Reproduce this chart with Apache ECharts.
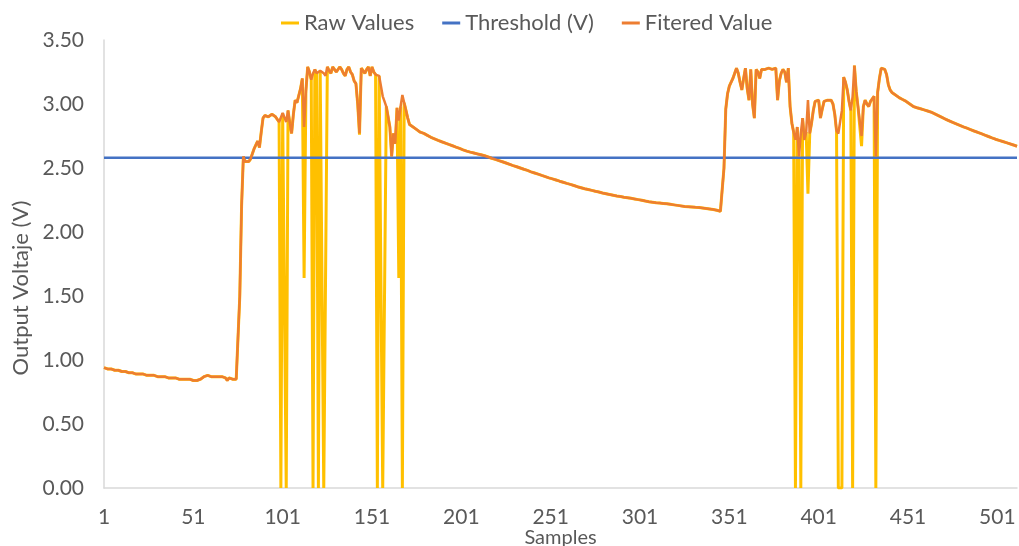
<!DOCTYPE html>
<html>
<head>
<meta charset="utf-8">
<script src="https://cdn.jsdelivr.net/npm/echarts@6/dist/echarts.min.js"></script>
<style>
  html, body { margin: 0; padding: 0; background: #fff; }
  #chart_box { width: 1019px; height: 546px; }
</style>
</head>
<body>
<div id="chart_box"></div>
<script>
// values, one per sample
var filteredValues = [
  0.94,0.94,0.93,0.93,0.93,0.92,0.92,0.92,0.92,0.91,
  0.91,0.91,0.91,0.90,0.90,0.90,0.90,0.90,0.89,0.89,
  0.89,0.89,0.89,0.88,0.88,0.88,0.88,0.88,0.88,0.87,
  0.87,0.87,0.87,0.87,0.87,0.86,0.86,0.86,0.86,0.86,
  0.86,0.85,0.85,0.85,0.85,0.85,0.85,0.85,0.85,0.85,
  0.84,0.84,0.84,0.84,0.85,0.86,0.87,0.87,0.88,0.87,
  0.87,0.88,0.87,0.87,0.87,0.88,0.87,0.87,0.86,0.84,
  0.86,0.85,0.85,0.85,0.85,0.86,1.50,2.20,2.59,2.55,
  2.54,2.55,2.57,2.61,2.65,2.68,2.71,2.66,2.78,2.89,
  2.91,2.92,2.90,2.89,2.92,2.93,2.90,2.88,2.86,2.85,
  2.93,2.94,2.86,2.95,2.85,2.77,2.92,3.03,3.01,3.00,
  3.12,3.20,2.82,3.10,3.29,3.25,3.19,3.24,3.27,3.24,
  3.23,3.26,3.27,3.24,3.22,3.29,3.26,3.24,3.29,3.27,
  3.25,3.25,3.29,3.27,3.24,3.22,3.27,3.29,3.25,3.23,
  3.18,3.16,3.00,2.77,3.28,3.26,3.24,3.27,3.29,3.22,
  3.29,3.25,3.23,3.23,3.22,3.22,3.06,3.02,2.98,2.90,
  2.82,2.59,2.77,2.69,2.97,2.87,2.98,3.07,3.01,2.95,
  2.89,2.84,2.83,2.82,2.81,2.80,2.79,2.78,2.775,2.77,
  2.762,2.755,2.748,2.74,2.733,2.728,2.722,2.716,2.711,2.705,
  2.70,2.695,2.689,2.684,2.679,2.674,2.669,2.663,2.658,2.653,
  2.648,2.642,2.637,2.632,2.628,2.624,2.620,2.617,2.613,2.610,
  2.607,2.603,2.600,2.596,2.591,2.586,2.581,2.576,2.571,2.567,
  2.562,2.558,2.554,2.549,2.544,2.539,2.534,2.529,2.524,2.519,
  2.514,2.510,2.505,2.500,2.495,2.490,2.486,2.481,2.476,2.470,
  2.466,2.461,2.456,2.452,2.447,2.442,2.437,2.433,2.428,2.423,
  2.419,2.415,2.410,2.406,2.402,2.397,2.393,2.389,2.384,2.380,
  2.376,2.372,2.367,2.363,2.359,2.354,2.350,2.346,2.342,2.338,
  2.335,2.332,2.328,2.325,2.322,2.318,2.315,2.312,2.309,2.305,
  2.302,2.299,2.296,2.293,2.290,2.287,2.284,2.281,2.279,2.277,
  2.275,2.272,2.270,2.268,2.266,2.263,2.261,2.258,2.256,2.253,
  2.250,2.248,2.245,2.242,2.240,2.237,2.234,2.233,2.231,2.229,
  2.228,2.226,2.225,2.223,2.221,2.220,2.218,2.216,2.214,2.212,
  2.210,2.208,2.206,2.204,2.202,2.200,2.199,2.198,2.197,2.196,
  2.194,2.193,2.192,2.191,2.190,2.188,2.186,2.184,2.182,2.180,
  2.178,2.176,2.173,2.170,2.166,2.162,2.160,2.50,2.96,3.08,
  3.14,3.17,3.20,3.24,3.28,3.24,3.17,3.11,3.20,3.28,
  3.12,3.03,3.27,3.00,2.89,3.27,3.25,3.20,3.27,3.26,
  3.27,3.26,3.28,3.27,3.27,3.26,3.28,3.03,3.18,3.24,
  3.27,3.25,3.17,3.28,2.98,2.85,2.78,2.72,2.82,2.59,
  2.77,2.89,2.72,2.78,3.03,2.77,2.85,2.95,3.02,3.03,
  3.03,2.89,2.96,3.02,3.03,3.03,3.02,3.03,3.00,2.92,
  2.79,2.77,2.76,2.95,3.21,3.17,3.11,3.02,2.95,3.06,
  3.30,3.10,2.98,2.98,2.75,2.98,3.03,3.00,2.98,3.02,
  3.03,3.06,2.59,3.09,3.20,3.28,3.29,3.27,3.23,3.15,
  3.11,3.09,3.08,3.07,3.06,3.05,3.04,3.035,3.03,3.02,
  3.01,3.00,2.99,2.98,2.976,2.971,2.967,2.963,2.958,2.954,
  2.950,2.945,2.941,2.936,2.930,2.923,2.916,2.909,2.902,2.895,
  2.888,2.881,2.875,2.869,2.863,2.857,2.851,2.845,2.839,2.833,
  2.827,2.821,2.816,2.811,2.805,2.800,2.795,2.789,2.784,2.779,
  2.774,2.768,2.763,2.757,2.752,2.746,2.741,2.735,2.730,2.725,
  2.720,2.716,2.711,2.707,2.702,2.698,2.693,2.689,2.684,2.680,
  2.675,2.670
];

var rawValues = [
  0.94,0.94,0.93,0.93,0.93,0.92,0.92,0.92,0.92,0.91,
  0.91,0.91,0.91,0.90,0.90,0.90,0.90,0.90,0.89,0.89,
  0.89,0.89,0.89,0.88,0.88,0.88,0.88,0.88,0.88,0.87,
  0.87,0.87,0.87,0.87,0.87,0.86,0.86,0.86,0.86,0.86,
  0.86,0.85,0.85,0.85,0.85,0.85,0.85,0.85,0.85,0.85,
  0.84,0.84,0.84,0.84,0.85,0.86,0.87,0.87,0.88,0.87,
  0.87,0.88,0.87,0.87,0.87,0.88,0.87,0.87,0.86,0.84,
  0.86,0.85,0.85,0.85,0.85,0.86,1.50,2.20,2.59,2.55,
  2.54,2.55,2.57,2.61,2.65,2.68,2.71,2.66,2.78,2.89,
  2.91,2.92,2.90,2.89,2.92,2.93,2.90,2.88,2.86,0,
  2.93,2.94,0,2.95,2.85,2.77,2.92,3.03,3.01,3.00,
  3.12,3.20,1.64,3.10,3.29,3.25,3.19,0,3.27,3.24,
  0,3.26,3.27,0,0,3.29,3.26,3.24,3.29,3.27,
  3.25,3.25,3.29,3.27,3.24,3.22,3.27,3.29,3.25,3.23,
  3.18,3.16,3.00,2.76,3.28,3.26,3.24,3.27,3.29,3.22,
  3.29,3.25,3.23,0,3.22,3.22,0,0,2.98,2.90,
  2.82,2.59,2.77,2.69,2.97,1.64,2.98,0,3.01,2.95,
  2.89,2.84,2.83,2.82,2.81,2.80,2.79,2.78,2.775,2.77,
  2.762,2.755,2.748,2.74,2.733,2.728,2.722,2.716,2.711,2.705,
  2.70,2.695,2.689,2.684,2.679,2.674,2.669,2.663,2.658,2.653,
  2.648,2.642,2.637,2.632,2.628,2.624,2.620,2.617,2.613,2.610,
  2.607,2.603,2.600,2.596,2.591,2.586,2.581,2.576,2.571,2.567,
  2.562,2.558,2.554,2.549,2.544,2.539,2.534,2.529,2.524,2.519,
  2.514,2.510,2.505,2.500,2.495,2.490,2.486,2.481,2.476,2.470,
  2.466,2.461,2.456,2.452,2.447,2.442,2.437,2.433,2.428,2.423,
  2.419,2.415,2.410,2.406,2.402,2.397,2.393,2.389,2.384,2.380,
  2.376,2.372,2.367,2.363,2.359,2.354,2.350,2.346,2.342,2.338,
  2.335,2.332,2.328,2.325,2.322,2.318,2.315,2.312,2.309,2.305,
  2.302,2.299,2.296,2.293,2.290,2.287,2.284,2.281,2.279,2.277,
  2.275,2.272,2.270,2.268,2.266,2.263,2.261,2.258,2.256,2.253,
  2.250,2.248,2.245,2.242,2.240,2.237,2.234,2.233,2.231,2.229,
  2.228,2.226,2.225,2.223,2.221,2.220,2.218,2.216,2.214,2.212,
  2.210,2.208,2.206,2.204,2.202,2.200,2.199,2.198,2.197,2.196,
  2.194,2.193,2.192,2.191,2.190,2.188,2.186,2.184,2.182,2.180,
  2.178,2.176,2.173,2.170,2.166,2.162,2.160,2.50,2.96,3.08,
  3.14,3.17,3.20,3.24,3.28,3.24,3.17,3.11,3.20,3.28,
  3.12,3.03,3.27,3.00,2.89,3.27,3.25,3.20,3.27,3.26,
  3.27,3.26,3.28,3.27,3.27,3.26,3.28,3.03,3.18,3.24,
  3.27,3.25,3.17,3.28,2.98,2.85,2.78,0,2.82,2.59,
  0,2.89,2.72,2.78,2.30,2.77,2.85,2.95,3.02,3.03,
  3.03,2.89,2.96,3.02,3.03,3.03,3.02,3.03,3.00,2.92,
  2.79,0,0,0,3.21,3.17,3.11,3.02,2.95,0,
  3.30,3.10,2.98,2.98,2.67,2.98,3.03,3.00,2.98,3.02,
  3.03,3.06,0,3.09,3.20,3.28,3.29,3.27,3.23,3.15,
  3.11,3.09,3.08,3.07,3.06,3.05,3.04,3.035,3.03,3.02,
  3.01,3.00,2.99,2.98,2.976,2.971,2.967,2.963,2.958,2.954,
  2.950,2.945,2.941,2.936,2.930,2.923,2.916,2.909,2.902,2.895,
  2.888,2.881,2.875,2.869,2.863,2.857,2.851,2.845,2.839,2.833,
  2.827,2.821,2.816,2.811,2.805,2.800,2.795,2.789,2.784,2.779,
  2.774,2.768,2.763,2.757,2.752,2.746,2.741,2.735,2.730,2.725,
  2.720,2.716,2.711,2.707,2.702,2.698,2.693,2.689,2.684,2.680,
  2.675,2.670
];

var thresholdLevel = 2.58;
var seriesNames = ["Raw Values", "Threshold (V)", "Fitered Value"];

var samples = rawValues.map(function (v, i) { return String(i + 1); });
var thresholdValues = samples.map(function () { return thresholdLevel; });

var font = "Lato, 'Open Sans', sans-serif";
var textGrey = "#595959";

var myecharts = echarts.init(document.getElementById("chart_box"));
var option = {
  animation: false,
  textStyle: { fontFamily: font },
  legend: {
    data: seriesNames,
    left: 276,
    top: 7,
    icon: "rect",
    itemWidth: 18,
    itemHeight: 3,
    itemGap: 28,
    textStyle: { color: textGrey, fontSize: 22, fontFamily: font }
  },
  grid: { left: 104, right: 2, top: 40, bottom: 58, outerBoundsMode: "none" },
  xAxis: {
    type: "category",
    boundaryGap: false,
    data: samples,
    name: "Samples",
    nameLocation: "middle",
    nameGap: 40,
    nameMoveOverlap: false,
    nameTextStyle: { color: textGrey, fontSize: 20, fontFamily: font },
    axisLine: { lineStyle: { color: "#D9D9D9", width: 1.5 } },
    axisTick: { show: false },
    axisLabel: { interval: 49, color: textGrey, fontSize: 21, margin: 19, fontFamily: font },
    splitLine: { show: false }
  },
  yAxis: {
    type: "value",
    min: 0,
    max: 3.5,
    interval: 0.5,
    name: "Output Voltaje (V)",
    nameLocation: "middle",
    nameGap: 72,
    nameTextStyle: { color: textGrey, fontSize: 22, fontFamily: font, padding: [0, 48, 0, 0] },
    axisLine: { show: true, lineStyle: { color: "#D9D9D9", width: 1.5 } },
    axisTick: { show: false },
    axisLabel: {
      color: textGrey, fontSize: 21, margin: 20, fontFamily: font,
      formatter: function (v) { return v.toFixed(2); }
    },
    splitLine: { show: false }
  },
  series: [
    {
      name: seriesNames[0],
      type: "line",
      data: rawValues,
      symbol: "none",
      lineStyle: { color: "#FFC000", width: 3 },
      itemStyle: { color: "#FFC000" }
    },
    {
      name: seriesNames[1],
      type: "line",
      data: thresholdValues,
      symbol: "none",
      lineStyle: { color: "#4472C4", width: 2.5 },
      itemStyle: { color: "#4472C4" }
    },
    {
      name: seriesNames[2],
      type: "line",
      data: filteredValues,
      symbol: "none",
      lineStyle: { color: "#ED7D31", width: 2.5 },
      itemStyle: { color: "#ED7D31" }
    }
  ]
};
myecharts.setOption(option);
</script>
</body>
</html>
